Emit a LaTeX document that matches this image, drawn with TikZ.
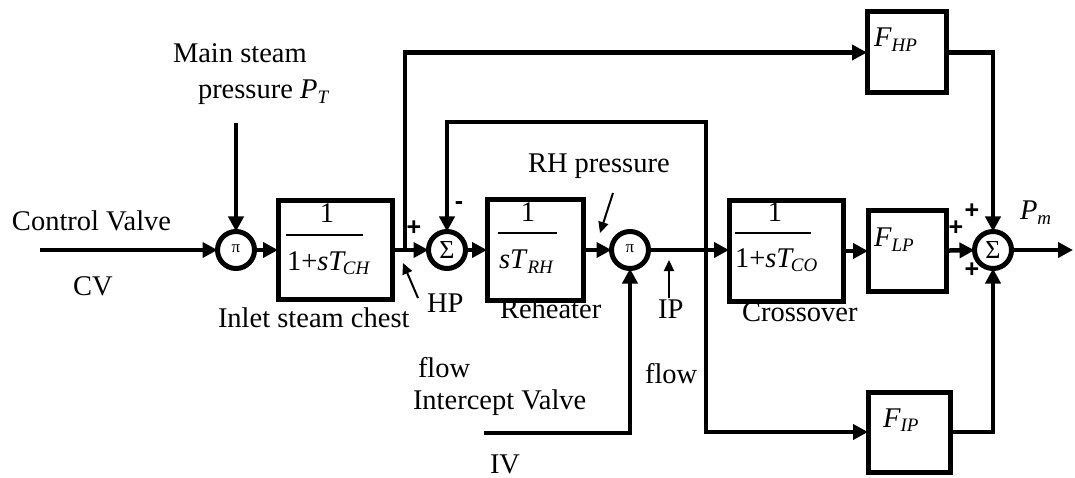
\documentclass[tikz,border=0pt]{standalone}
\usepackage{fontspec}
\setmainfont{Liberation Serif}
\newfontfamily\sansb{Liberation Sans}
\usetikzlibrary{arrows.meta}
\newcommand\isub[3][0pt]{\textit{#2}\kern#1\raisebox{-0.35ex}{\fontsize{19}{19}\selectfont\itshape #3}}
\begin{document}
\begin{tikzpicture}[x=1pt,y=-1pt,
  font=\fontsize{28.5}{30}\selectfont,
  blk/.style={draw, line width=5pt, inner sep=0pt, outer sep=0pt},
  sumc/.style={circle, draw, line width=5pt, minimum size=37pt, inner sep=0pt, outer sep=0pt},
  arr/.style={line width=4.5pt, -{Triangle[length=15pt,width=15pt]}},
  tarr/.style={line width=2pt, -{Triangle[length=11pt,width=10pt]}},
  txt/.style={anchor=base west, inner sep=0pt, outer sep=0pt},
  sgn/.style={inner sep=0pt, font=\sansb\bfseries\fontsize{25}{25}\selectfont},
  bar/.style={line width=1.2pt}]
\useasboundingbox (0,0) rectangle (1075,478);

% summing / multiplying junctions
\node[sumc] (pi1) at (236,250) {\fontsize{17}{17}\selectfont\raisebox{3pt}{π}};
\node[sumc] (sig1) at (447,250) {\fontsize{26}{26}\selectfont Σ};
\node[sumc] (pi2) at (630,250) {\fontsize{17}{17}\selectfont\raisebox{3pt}{π}};
\node[sumc] (sig2) at (993,250) {\fontsize{26}{26}\selectfont Σ};

% blocks
\node[blk, minimum width=114pt, minimum height=98pt] (ch) at (335,250) {};
\node[blk, minimum width=96pt, minimum height=100pt] (rh) at (535,250) {};
\node[blk, minimum width=114pt, minimum height=100pt] (co) at (786,251) {};
\node[blk, minimum width=79pt, minimum height=81pt] (fhp) at (906.5,52.5) {};
\node[blk, minimum width=78pt, minimum height=81pt] (flp) at (907,251) {};
\node[blk, minimum width=82pt, minimum height=80pt] (fip) at (909,432) {};

% block contents
\node[anchor=base] (chn) at (327,223) {1};
\draw[bar] (286,235) -- (363,235);
\node[txt] (chd) at (287,270) {1+\isub[-3pt]{sT}{CH}};
\node[anchor=base] (rhn) at (528,222) {1};
\draw[bar] (498,233) -- (557,233);
\node[txt] (rhd) at (499,269) {\isub{sT}{RH}};
\node[anchor=base] (con) at (775,222) {1};
\draw[bar] (735,233) -- (811,233);
\node[txt] (cod) at (735,267) {1+\isub[-3pt]{sT}{CO}};
\node[txt] (fhpl) at (874,47) {\isub{F}{HP}};
\node[txt] (flpl) at (874,247) {\isub{F}{LP}};
\node[txt] (fipl) at (883,427) {\isub{F}{IP}};

% coordinates
\coordinate (cv) at (40,250);
\coordinate (pt) at (236,123);
\coordinate (j1) at (405,250);
\coordinate (j2) at (706,250);
\coordinate (fb) at (706,122);
\coordinate (iv) at (484,433);
\coordinate (out) at (1073,250);

% main connectors
\draw[arr] (cv) -- (pi1);
\draw[arr] (pt) -- (pi1);
\draw[arr] (pi1) -- (ch);
\draw[arr] (ch) -- (sig1);
\draw[arr] (j1) |- (fhp.west);
\draw[arr] (sig1) -- (rh);
\draw[arr] (rh) -- (pi2);
\draw[arr] (pi2.east) -- (co.west |- pi2.east);
\draw[arr] (j2) -- (fb) -| (sig1.north);
\draw[arr] (j2) |- (fip.west);
\draw[arr] (co) -- (flp);
\draw[arr] (flp) -- (sig2);
\draw[arr] (fhp.east) -| (sig2.north);
\draw[arr] (fip.east) -| (sig2.south);
\draw[arr] (sig2) -- (out);
\draw[arr] (iv) -| (pi2.south);

% annotation arrows
\coordinate (hpa) at (418,298); \coordinate (hpb) at (403,263);
\draw[tarr] (hpa) -- (hpb);
\coordinate (ipa) at (669,298); \coordinate (ipb) at (669,260);
\draw[tarr] (ipa) -- (ipb);
\coordinate (rpa) at (613,193); \coordinate (rpb) at (600,233);
\draw[tarr] (rpa) -- (rpb);

% signs
\node[sgn] (s1) at (414,228) {+};
\node[sgn] (s2) at (459,206) {-};
\node[sgn] (s3) at (972,211) {+};
\node[sgn] (s4) at (956,228) {+};
\node[sgn] (s5) at (972,270) {+};

% labels
\node[txt] (l1) at (173,63) {Main steam};
\node[txt] (l2) at (198,99) {pressure \isub{P}{T}};
\node[txt] (l3) at (12,230) {Control Valve};
\node[txt] (l4) at (73,295) {CV};
\node[txt] (l5) at (218,327) {Inlet steam chest};
\node[txt] (l6) at (427,312) {HP};
\node[txt] (l7) at (500,318) {Reheater};
\node[txt] (l8) at (658,318) {IP};
\node[txt] (l9) at (742,321) {Crossover};
\node[txt] (l10) at (528,173) {RH pressure};
\node[txt] (l11) at (418,377) {flow};
\node[txt] (l12) at (413,409) {Intercept Valve};
\node[txt] (l13) at (490,473) {IV};
\node[txt] (l14) at (645,383) {flow};
\node[txt] (l15) at (1020,220) {\isub{P}{m}};
\end{tikzpicture}
\end{document}
